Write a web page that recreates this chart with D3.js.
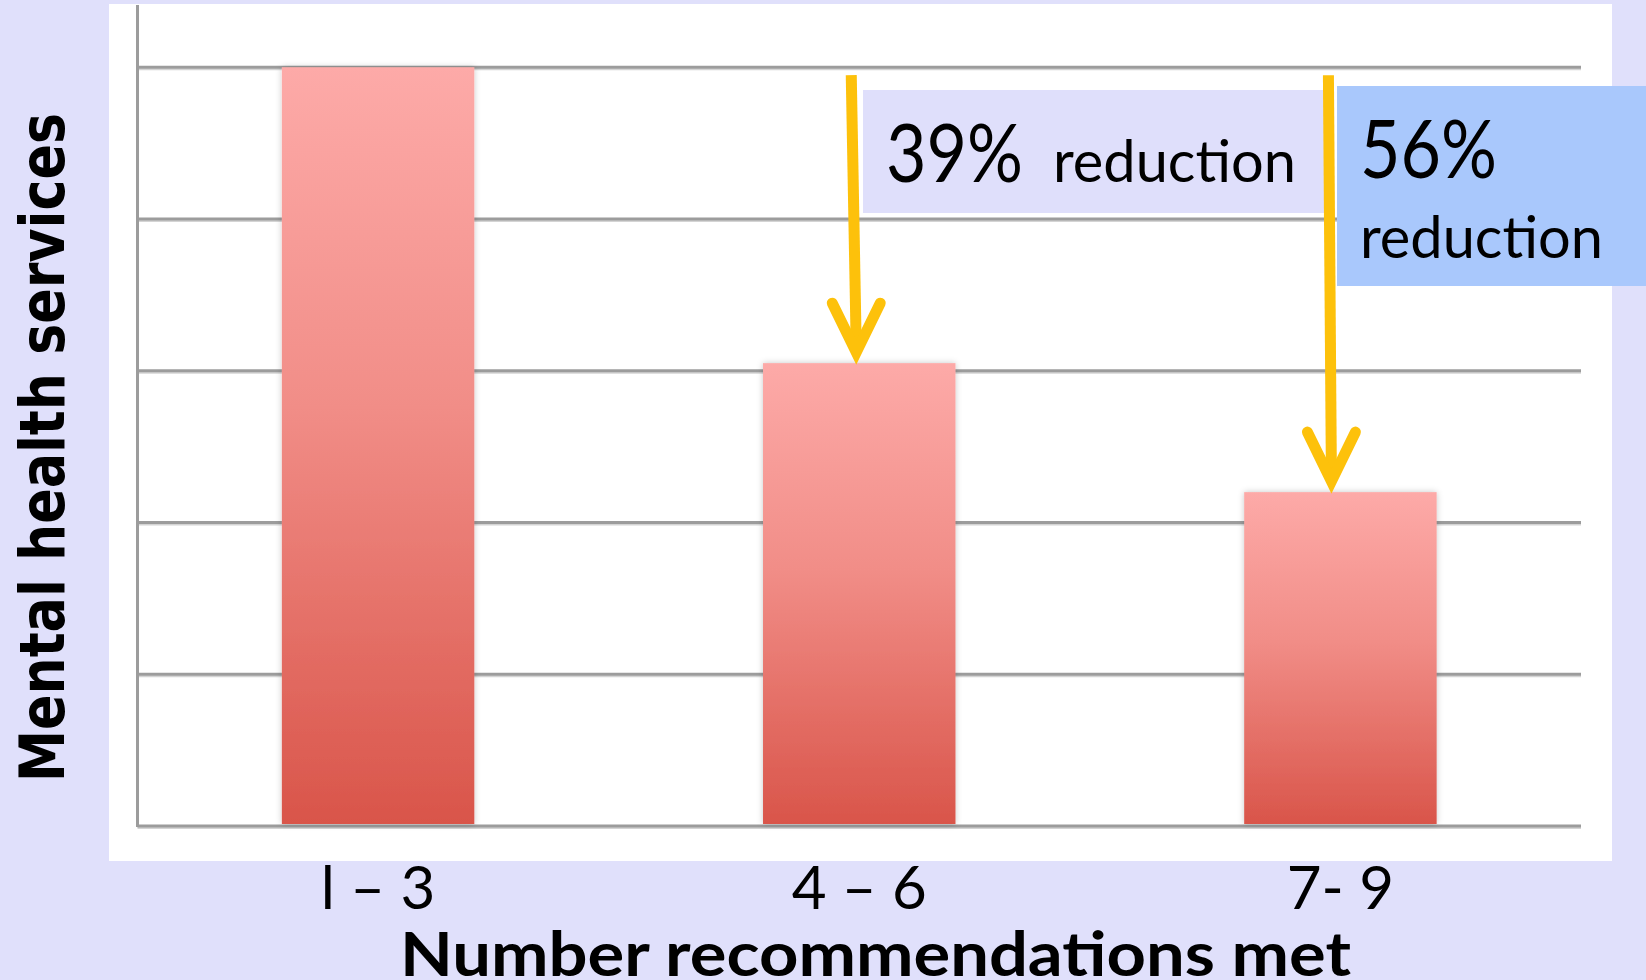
<!DOCTYPE html>
<html>
<head>
<meta charset="utf-8">
<script src="https://cdn.jsdelivr.net/npm/d3@7/dist/d3.min.js"></script>
<style>
  html, body { margin: 0; padding: 0; background: #e0e0fb; }
  svg { display: block; }
</style>
</head>
<body>
<svg id="chart" width="1646" height="980"></svg>
<script>
// Mental health service use by number of recommendations met
const categories = ["l – 3", "4 – 6", "7- 9"];
const values = [100, 61, 44];          // relative service use (1–3 group = 100)
const gridTicks = [20, 40, 60, 80, 100];
const yTitle = "Mental health services";
const xTitle = "Number recommendations met";

const W = 1646, H = 980;
const svg = d3.select("#chart");

const plot = { left: 137.5, right: 1581, top: 5, bottom: 826 };

const x = d3.scaleBand()
  .domain(categories)
  .range([plot.left, plot.right])
  .paddingInner(0.6)
  .paddingOuter(0.3);

const y = d3.scaleLinear()
  .domain([0, 108.2])
  .range([plot.bottom, plot.top]);

// page background and white chart panel
svg.append("rect").attr("width", W).attr("height", H).attr("fill", "#e0e0fb");
svg.append("rect").attr("x", 109).attr("y", 4).attr("width", 1503).attr("height", 857).attr("fill", "#ffffff");

const defs = svg.append("defs");
const grad = defs.append("linearGradient")
  .attr("id", "barGrad").attr("x1", 0).attr("y1", 0).attr("x2", 0).attr("y2", 1);
grad.append("stop").attr("offset", "0%").attr("stop-color", "#fdaaa8");
grad.append("stop").attr("offset", "45%").attr("stop-color", "#f18d87");
grad.append("stop").attr("offset", "100%").attr("stop-color", "#d9554a");

const shadow = defs.append("filter").attr("id", "barShadow")
  .attr("x", "-10%").attr("y", "-5%").attr("width", "120%").attr("height", "110%");
shadow.append("feDropShadow").attr("dx", 0).attr("dy", 0)
  .attr("stdDeviation", 3).attr("flood-color", "#000").attr("flood-opacity", 0.22);

// horizontal gridlines
const gridG = svg.append("g").attr("class", "grid");
gridG.selectAll("line.shade").data(gridTicks).join("line")
  .attr("class", "shade")
  .attr("x1", plot.left).attr("x2", plot.right)
  .attr("y1", d => y(d) + 2).attr("y2", d => y(d) + 2)
  .attr("stroke", "#d4d4d4").attr("stroke-width", 2);
gridG.selectAll("line.main").data(gridTicks).join("line")
  .attr("class", "main")
  .attr("x1", plot.left).attr("x2", plot.right)
  .attr("y1", d => y(d)).attr("y2", d => y(d))
  .attr("stroke", "#9c9c9c").attr("stroke-width", 3);

// baseline and vertical axis
svg.append("line")
  .attr("x1", plot.left).attr("x2", plot.right)
  .attr("y1", y(0) + 2).attr("y2", y(0) + 2)
  .attr("stroke", "#d4d4d4").attr("stroke-width", 2);
svg.append("line")
  .attr("x1", plot.left).attr("x2", plot.right)
  .attr("y1", y(0)).attr("y2", y(0))
  .attr("stroke", "#9c9c9c").attr("stroke-width", 3);
svg.append("line")
  .attr("x1", plot.left).attr("x2", plot.left)
  .attr("y1", plot.top).attr("y2", y(0) + 1)
  .attr("stroke", "#9c9c9c").attr("stroke-width", 3);

// bars
svg.append("g").selectAll("rect").data(values).join("rect")
  .attr("x", (d, i) => x(categories[i]))
  .attr("y", d => y(d))
  .attr("width", x.bandwidth())
  .attr("height", d => y(0) - y(d) - 2)
  .attr("fill", "url(#barGrad)")
  .attr("filter", "url(#barShadow)");

// category labels
const xAxis = d3.axisBottom(x).tickSize(0).tickPadding(0);
const axG = svg.append("g").attr("transform", `translate(0,${y(0)})`).call(xAxis);
axG.select(".domain").remove();
axG.selectAll("text")
  .attr("y", 83).attr("dy", 0)
  .attr("font-family", "Lato, 'Open Sans', sans-serif")
  .attr("font-size", 60)
  .attr("fill", "#000");

// axis titles
svg.append("text")
  .attr("x", 875.5).attr("y", 976)
  .attr("text-anchor", "middle")
  .attr("font-family", "Lato, sans-serif")
  .attr("font-weight", 700)
  .attr("font-size", 62)
  .attr("textLength", 951).attr("lengthAdjust", "spacingAndGlyphs")
  .text(xTitle);

svg.append("text")
  .attr("transform", "translate(64,447.5) rotate(-90)")
  .attr("text-anchor", "middle")
  .attr("font-family", "'DejaVu Sans', Verdana, sans-serif")
  .attr("font-weight", 700)
  .attr("font-size", 63)
  .attr("textLength", 669).attr("lengthAdjust", "spacingAndGlyphs")
  .text(yTitle);

// reduction annotations relative to the 1–3 group
const reduction = values.map(v => Math.round((1 - v / values[0]) * 100));

// box for 4–6
svg.append("rect").attr("x", 863).attr("y", 90).attr("width", 462).attr("height", 123).attr("fill", "#dfdffb");
svg.append("text")
  .attr("x", 886).attr("y", 182)
  .attr("font-family", "Lato, sans-serif").attr("font-size", 82)
  .attr("textLength", 137).attr("lengthAdjust", "spacingAndGlyphs")
  .text(reduction[1] + "%");
svg.append("text")
  .attr("x", 1053).attr("y", 182)
  .attr("font-family", "Lato, sans-serif").attr("font-size", 59)
  .attr("textLength", 243).attr("lengthAdjust", "spacingAndGlyphs")
  .text("reduction");

// box for 7–9
svg.append("rect").attr("x", 1337).attr("y", 86).attr("width", 309).attr("height", 200).attr("fill", "#a9c8fc");
svg.append("text")
  .attr("x", 1360).attr("y", 178)
  .attr("font-family", "Lato, sans-serif").attr("font-size", 82)
  .attr("textLength", 137).attr("lengthAdjust", "spacingAndGlyphs")
  .text(reduction[2] + "%");
svg.append("text")
  .attr("x", 1360).attr("y", 258)
  .attr("font-family", "Lato, sans-serif").attr("font-size", 59)
  .attr("textLength", 243).attr("lengthAdjust", "spacingAndGlyphs")
  .text("reduction");

// downward arrows from the 1–3 level to each lower bar
const arrowColor = "#fdc10b";
const arrows = [
  { i: 1, xTop: x(categories[1]) + x.bandwidth() / 2 - 8, xTip: x(categories[1]) + x.bandwidth() / 2 - 3 },
  { i: 2, xTop: x(categories[2]) + x.bandwidth() / 2 - 12, xTip: x(categories[2]) + x.bandwidth() / 2 - 9 }
];
const arrowG = svg.append("g")
  .attr("stroke", arrowColor).attr("stroke-width", 11).attr("fill", "none");
arrows.forEach(a => {
  const yTop = y(values[0]) + 8;
  const yTip = y(values[a.i]) - 11;
  arrowG.append("line")
    .attr("x1", a.xTop).attr("y1", yTop)
    .attr("x2", a.xTip).attr("y2", yTip - 4)
    .attr("stroke-linecap", "butt");
  arrowG.append("path")
    .attr("d", `M${a.xTip - 24},${yTip - 49} L${a.xTip},${yTip} L${a.xTip + 24},${yTip - 49}`)
    .attr("stroke-linecap", "round").attr("stroke-linejoin", "miter");
});
</script>
</body>
</html>
